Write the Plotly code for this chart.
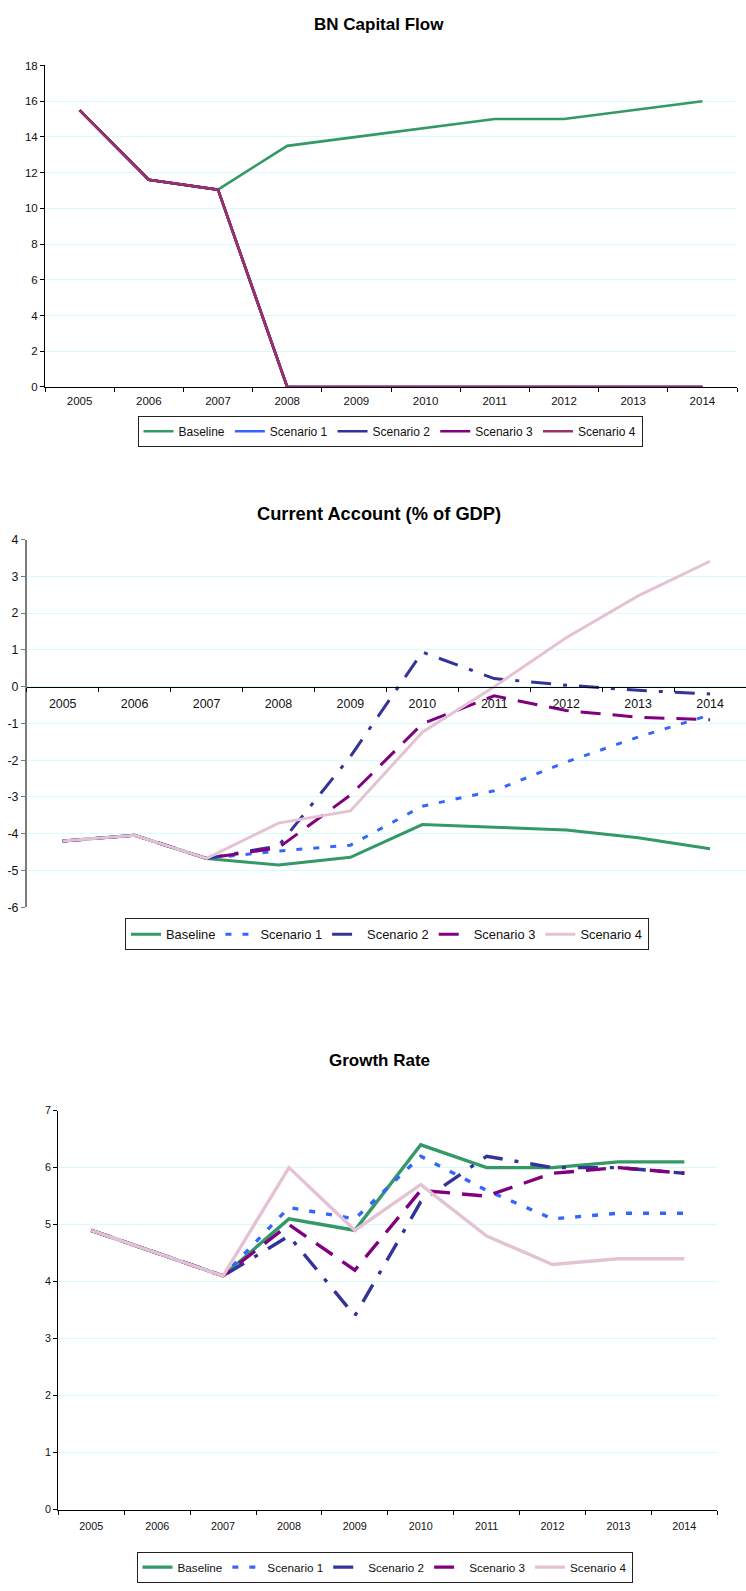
import plotly.graph_objects as go

# ---- data ---------------------------------------------------------------
years = ["2005", "2006", "2007", "2008", "2009", "2010", "2011", "2012", "2013", "2014"]
series_names = ["Baseline", "Scenario 1", "Scenario 2", "Scenario 3", "Scenario 4"]

# BN Capital Flow
capital_baseline = [15.5, 11.6, 11.05, 13.5, 14.0, 14.5, 15.0, 15.0, 15.5, 16.0]
capital_scenario1 = [15.5, 11.6, 11.05, 0, 0, 0, 0, 0, 0, 0]
capital_scenario2 = [15.5, 11.6, 11.05, 0, 0, 0, 0, 0, 0, 0]
capital_scenario3 = [15.5, 11.6, 11.05, 0, 0, 0, 0, 0, 0, 0]
capital_scenario4 = [15.5, 11.6, 11.05, 0, 0, 0, 0, 0, 0, 0]
capital_ticks = [0, 2, 4, 6, 8, 10, 12, 14, 16, 18]

# Current Account (% of GDP)
ca_baseline = [-4.2, -4.04, -4.67, -4.85, -4.64, -3.75, -3.82, -3.9, -4.11, -4.41]
ca_scenario1 = [-4.2, -4.04, -4.67, -4.47, -4.31, -3.25, -2.83, -2.05, -1.37, -0.77]
ca_scenario2 = [-4.2, -4.04, -4.67, -4.33, -1.9, 0.94, 0.22, 0.04, -0.1, -0.2]
ca_scenario3 = [-4.2, -4.04, -4.67, -4.38, -2.95, -1.01, -0.25, -0.65, -0.83, -0.9]
ca_scenario4 = [-4.2, -4.04, -4.67, -3.71, -3.38, -1.24, 0.0, 1.33, 2.47, 3.41]
ca_ticks = [-6, -5, -4, -3, -2, -1, 0, 1, 2, 3, 4]

# Growth Rate
gr_baseline = [4.9, 4.5, 4.1, 5.1, 4.9, 6.4, 6.0, 6.0, 6.1, 6.1]
gr_scenario1 = [4.9, 4.5, 4.1, 5.3, 5.1, 6.2, 5.6, 5.1, 5.2, 5.2]
gr_scenario2 = [4.9, 4.5, 4.1, 4.8, 3.4, 5.4, 6.2, 6.0, 6.0, 5.9]
gr_scenario3 = [4.9, 4.5, 4.1, 5.0, 4.2, 5.6, 5.5, 5.9, 6.0, 5.9]
gr_scenario4 = [4.9, 4.5, 4.1, 6.0, 4.9, 5.7, 4.8, 4.3, 4.4, 4.4]
gr_ticks = [0, 1, 2, 3, 4, 5, 6, 7]

# ---- styling ------------------------------------------------------------
W, H = 746, 1591
FONT = "Arial, 'Liberation Sans', sans-serif"
GRID = "#d6fbfb"
TXT = "#111111"

GREEN, BLUE, NAVY, PURPLE, PLUM, PINK = "#339966", "#3366FF", "#333399", "#800080", "#993366", "#E4C2D4"


def py(px):
    """pixel row (from top) -> paper fraction"""
    return 1 - px / H


def pxx(px):
    return px / W


fig = go.Figure()

# chart 1: all solid lines
chart1 = [
    (capital_baseline, GREEN), (capital_scenario1, BLUE), (capital_scenario2, NAVY),
    (capital_scenario3, PURPLE), (capital_scenario4, PLUM),
]
for name, (vals, col) in zip(series_names, chart1):
    fig.add_trace(go.Scatter(x=years, y=vals, name=name, mode="lines",
                             line=dict(color=col, width=2.6),
                             xaxis="x", yaxis="y", legend="legend"))

# chart 2 and 3: mixed dash styles
dash_styles = [
    (GREEN, "solid"),
    (BLUE, "6px,11px"),
    (NAVY, "20px,12px,4px,12px"),
    (PURPLE, "20px,12px"),
    (PINK, "solid"),
]
chart2 = [ca_baseline, ca_scenario1, ca_scenario2, ca_scenario3, ca_scenario4]
for name, vals, (col, dash) in zip(series_names, chart2, dash_styles):
    fig.add_trace(go.Scatter(x=years, y=vals, name=name, mode="lines",
                             line=dict(color=col, width=3.0, dash=dash),
                             xaxis="x2", yaxis="y2", legend="legend2"))

chart3 = [gr_baseline, gr_scenario1, gr_scenario2, gr_scenario3, gr_scenario4]
for name, vals, (col, dash) in zip(series_names, chart3, dash_styles):
    fig.add_trace(go.Scatter(x=years, y=vals, name=name, mode="lines",
                             line=dict(color=col, width=3.4, dash=dash),
                             xaxis="x3", yaxis="y3", legend="legend3"))


def xaxis(domain, anchor, fsize, color="#000000", **kw):
    return dict(domain=domain, anchor=anchor, type="category", range=[-0.5, 9.5],
                tickson="boundaries", ticks="outside", ticklen=4, tickcolor=color,
                showline=True, linecolor=color, linewidth=1, showgrid=False,
                zeroline=False, tickfont=dict(family=FONT, size=fsize, color=TXT),
                fixedrange=True, **kw)


def yaxis(domain, anchor, ticks, fsize, color="#000000", lw=1):
    # plain hyphen for negatives
    return dict(domain=domain, anchor=anchor, range=[ticks[0], ticks[-1]],
                tickmode="array", tickvals=ticks, ticktext=[str(t) for t in ticks],
                ticks="outside", ticklen=4, tickcolor=color, showline=True,
                linecolor=color, linewidth=lw, showgrid=True, gridcolor=GRID,
                gridwidth=1, zeroline=False,
                tickfont=dict(family=FONT, size=fsize, color=TXT), fixedrange=True)


c1x = [pxx(45), pxx(737)]
c1y = [py(383.3), py(59)]
c2x = [pxx(26.7), 1.0]
c2y = [py(908.3), py(537.3)]
c3x = [pxx(58.3), pxx(717.3)]
c3y = [py(1515.9), py(1113.4)]

fig.update_layout(
    width=W, height=H,
    margin=dict(l=0, r=0, t=0, b=0),
    paper_bgcolor="white", plot_bgcolor="white",
    font=dict(family=FONT, color=TXT),
    showlegend=True,
    xaxis=xaxis(c1x, "y", 11.5, ticklabelstandoff=3),
    yaxis=yaxis(c1y, "x", capital_ticks, 11.5),
    xaxis2=xaxis(c2x, "free", 12.4, position=py(685.7), ticklabelstandoff=5),
    yaxis2=yaxis(c2y, "x2", ca_ticks, 12.4, color="#7a7a7a", lw=1.6),
    xaxis3=xaxis(c3x, "y3", 10.8, ticklabelstandoff=6),
    yaxis3=yaxis(c3y, "x3", gr_ticks, 10.8),
)

legend_common = dict(orientation="h", xanchor="center", yanchor="middle",
                     bgcolor="white", bordercolor="#222222", borderwidth=1,
                     itemwidth=30, itemclick=False, itemdoubleclick=False)
fig.update_layout(
    legend=dict(x=pxx(390), y=py(428), font=dict(family=FONT, size=12, color=TXT), **legend_common),
    legend2=dict(x=pxx(387), y=py(935.7), font=dict(family=FONT, size=12.9, color=TXT), **legend_common),
    legend3=dict(x=pxx(384.5), y=py(1574), font=dict(family=FONT, size=11.7, color=TXT), **legend_common),
)

titles = [("BN Capital Flow", 17.5, 17), ("Current Account (% of GDP)", 511, 18.3), ("Growth Rate", 1062.9, 17)]
for text, ypx, size in titles:
    fig.add_annotation(text="<b>%s</b>" % text, x=pxx(379), y=py(ypx), xref="paper", yref="paper",
                       xanchor="center", yanchor="middle", showarrow=False,
                       font=dict(family=FONT, size=size, color="#000000"))

fig.write_html("out.html")
